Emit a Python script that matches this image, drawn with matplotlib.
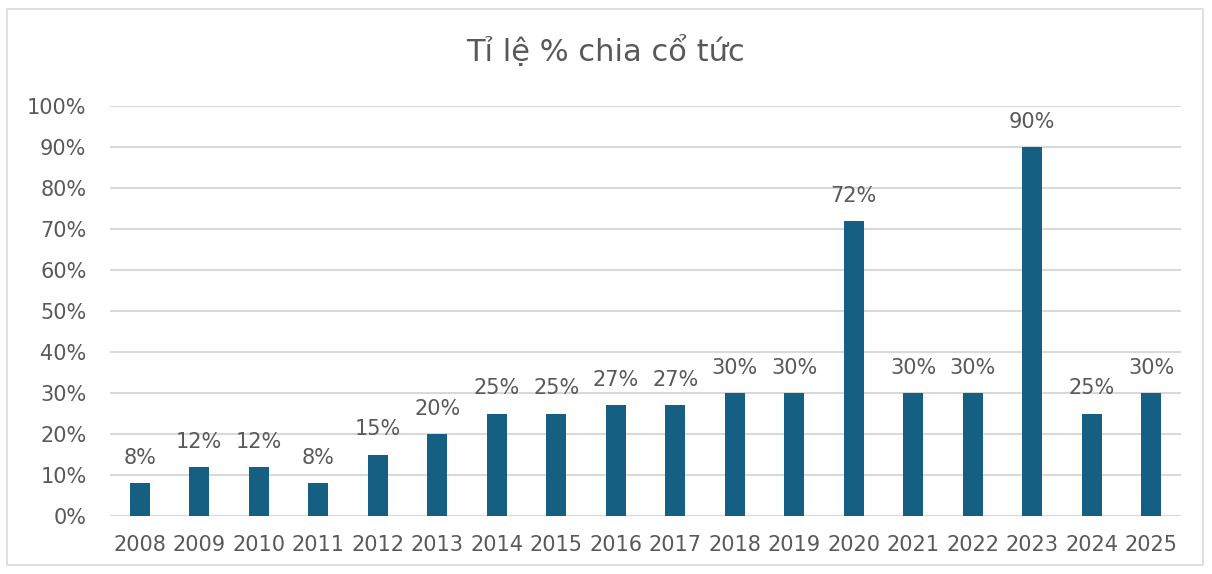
import numpy as np
import matplotlib.pyplot as plt
from matplotlib.patches import Rectangle

years = ['2008', '2009', '2010', '2011', '2012', '2013', '2014', '2015', '2016',
         '2017', '2018', '2019', '2020', '2021', '2022', '2023', '2024', '2025']
dividend = [8, 12, 12, 8, 15, 20, 25, 25, 27, 27, 30, 30, 72, 30, 30, 90, 25, 30]

bar_color = '#156082'
text_color = '#595959'
grid_color = '#d9d9d9'

plt.rcParams['font.family'] = ['DejaVu Sans']

fig = plt.figure(figsize=(12.12, 5.74), dpi=100)
ax = fig.add_axes([0.0908, 0.101, 0.8836, 0.7143])

x = np.arange(len(years))
bars = ax.bar(x, dividend, width=0.34, color=bar_color, zorder=3)

for xi, v in zip(x, dividend):
    ax.annotate(f'{v}%', (xi, v), xytext=(0, 11), textcoords='offset points',
                ha='center', va='bottom', fontsize=15, color=text_color)

ax.set_xlim(-0.5, len(years) - 0.5)
ax.set_ylim(0, 100)
ax.set_yticks(range(0, 101, 10))
ax.set_yticklabels([f'{t}%' for t in range(0, 101, 10)])
ax.set_xticks(x)
ax.set_xticklabels(years)
ax.tick_params(axis='both', length=0, labelsize=15, labelcolor=text_color)
ax.tick_params(axis='x', pad=14)
ax.tick_params(axis='y', pad=17)
ax.yaxis.grid(True, color=grid_color, linewidth=1.5, zorder=0)
ax.set_axisbelow(True)
for s in ax.spines.values():
    s.set_visible(False)

fig.text(0.5, 0.912, 'Tỉ lệ % chia cổ tức', ha='center', va='center',
         fontsize=22, color=text_color)

fig.patches.append(Rectangle((7 / 1212, 9 / 574), 1196 / 1212, 556 / 574,
                             transform=fig.transFigure, fill=False,
                             edgecolor=grid_color, linewidth=1.2))

fig.savefig('out.png', dpi=100)
